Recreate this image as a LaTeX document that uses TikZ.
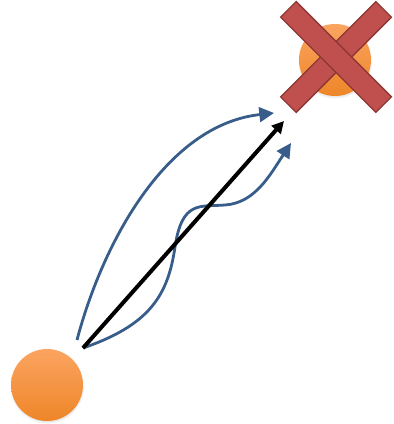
\documentclass[tikz,border=0pt]{standalone}
\definecolor{ballhi}{RGB}{251,164,96}
\definecolor{balllo}{RGB}{238,134,40}
\definecolor{crossred}{RGB}{192,80,77}
\definecolor{crossedge}{RGB}{140,56,54}
\definecolor{pathblue}{RGB}{56,93,138}
\usepackage{tikz}
\usetikzlibrary{arrows.meta,shadows}

\tikzset{
  ball/.style={circle,minimum size=54pt,inner sep=0pt,top color=ballhi,bottom color=balllo,
    circular drop shadow={shadow xshift=0pt,shadow yshift=-1pt,shadow scale=1.04,opacity=0.35}},
  crossbar/.style={rectangle,minimum width=101pt,minimum height=16.5pt,inner sep=0pt,
    fill=crossred,draw=crossedge,line width=1pt},
  path/.style={pathblue,line width=2.1pt,-{Triangle[length=11pt,width=11pt]}},
  direct/.style={black,line width=3pt,-{Triangle[length=9pt,width=9pt]}}
}

\begin{document}
\begin{tikzpicture}[x=0.75pt,y=-0.75pt]
        \useasboundingbox (0,0) rectangle (393,424);
        % source and blocked target
        \node[ball] (src) at (47,385) {};
        \node[ball] (dst) at (335,60) {};
        \node[crossbar,rotate=45] (barA) at (336,57) {};
        \node[crossbar,rotate=-45] (barB) at (336,57) {};
        % start and end points of the paths
        \coordinate (s1) at (77,340);
        \coordinate (s0) at (83,348);
        \coordinate (e1) at (274,113);
        \coordinate (e0) at (284,121);
        \coordinate (e2) at (291,143);
        % curved paths
        \draw[path] (s1) .. controls (102,245) and (165,125) .. (e1);
        \draw[path] (s0) .. controls (150,325) and (168,295) .. (175,247)
          .. controls (182,200) and (200,207) .. (225,205)
          .. controls (255,203) and (270,175) .. (e2);
        % straight path
        \draw[direct] (s0) -- (e0);
      \end{tikzpicture}
\end{document}
